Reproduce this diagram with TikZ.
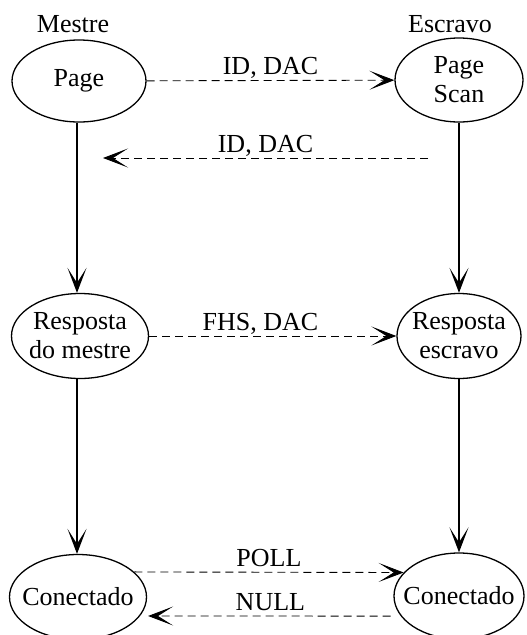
\documentclass[tikz,border=0pt]{standalone}
\usepackage{fontspec}
\setmainfont{Liberation Serif}
\usetikzlibrary{
        arrows.meta,
        positioning,
        shapes.geometric
    }
\tikzset{>={Stealth[length=25pt,width=19pt,inset=15pt]},x=1pt,y=-1pt}
\tikzset{estado/.style={draw,ellipse,line width=1.3pt,inner sep=0pt},
         texto/.style={label={[align=center]center:#1}},
         tracejado/.style={dash pattern=on 8pt off 5pt,line width=0.9pt},
         solido/.style={line width=1.4pt},
         rotulo/.style={anchor=base,yshift=6pt},
         titulo/.style={anchor=base}}

\begin{document}
\begin{tikzpicture}[font=\fontsize{26}{29}\selectfont]
\useasboundingbox (0,0) rectangle (527,635);
			\node[titulo] (mestre)  at (73,32)  {Mestre};
			\node[titulo] (escravo) at (450,32) {Escravo};
			\node[estado,minimum width=134pt,minimum height=82pt,texto={Page}] (page)     at (79,81)  {};
			\node[estado,minimum width=128pt,minimum height=84pt,texto={Page\\Scan}] (pagescan) at (459,80) {};
			\node[estado,minimum width=137pt,minimum height=85pt,texto={Resposta\\do mestre}] (respm)    at (80,336) {};
			\node[estado,minimum width=124pt,minimum height=85pt,texto={Resposta\\escravo}] (respe)    at (459,336) {};
			\node[estado,minimum width=137pt,minimum height=85pt,texto={Conectado}] (conm)     at (78,597) {};
			\node[estado,minimum width=130pt,minimum height=86pt,texto={Conectado}] (cone)     at (459,596) {};
			\coordinate (volta)   at (428,158);
			\coordinate (chegada) at (103,158);
		\path[->]
				(page)  edge[tracejado]  node[rotulo] {ID, DAC} (pagescan)
				(volta) edge[tracejado]  node[rotulo] {ID, DAC} (chegada)
				(page.south -| 77,0)  edge[solido]  (respm.north -| 77,0)
				(pagescan) edge[solido]  (respe)
				(respm) edge[tracejado]  node[rotulo,pos=.45] {FHS, DAC} (respe)
				(respm.south -| 77,0) edge[solido]  (conm.north -| 77,0)
				(respe) edge[solido]  (cone)
				(conm.24) edge[tracejado]  node[rotulo] {POLL} (cone.157)
				(cone.199) edge[tracejado,shorten <=10pt,shorten >=8pt]  node[rotulo] {NULL} (conm.-17)
				;
\end{tikzpicture}
\end{document}
